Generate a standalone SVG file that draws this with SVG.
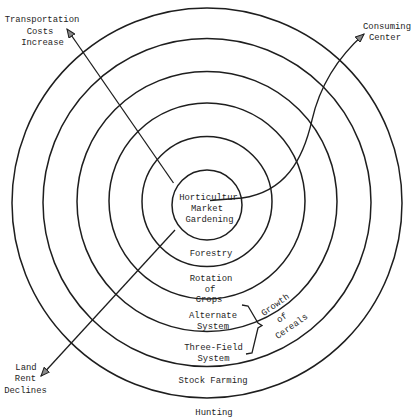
<svg xmlns="http://www.w3.org/2000/svg" width="413" height="417" viewBox="0 0 413 417">
<style>
.ring{fill:none;stroke:#1e1e1e;stroke-width:1.5}
.con{fill:none;stroke:#1e1e1e;stroke-width:1.3}
text{font-family:"Liberation Mono","DejaVu Sans Mono",monospace;font-size:8.9px;fill:#1e1e1e;text-anchor:middle}
</style>
<defs>
<marker id="arr" markerUnits="userSpaceOnUse" markerWidth="10" markerHeight="8" refX="9" refY="4" orient="auto" viewBox="0 0 10 8">
<path d="M0.5,0.5 L9,4 L0.5,7.5 Z" fill="#8a8a8a" stroke="#1e1e1e" stroke-width="1"/>
</marker>
</defs>
<rect width="413" height="417" fill="#ffffff"/>
<g id="rings">
<g id="hunting"><circle class="ring" cx="207" cy="203" r="195"/><text x="214" y="415">Hunting</text></g>
<g id="stock-farming"><circle class="ring" cx="207" cy="202.5" r="164"/><text x="213" y="383">Stock Farming</text></g>
<g id="three-field"><circle class="ring" cx="207" cy="201.5" r="130"/><text x="213.5" y="350">Three-Field</text><text x="213.5" y="360.5">System</text></g>
<g id="alternate"><circle class="ring" cx="207" cy="201" r="98"/><text x="213" y="318">Alternate</text><text x="213" y="329">System</text></g>
<g id="rotation"><circle class="ring" cx="207" cy="201.5" r="65"/><text x="211" y="281">Rotation</text><text x="210" y="292">of</text><text x="209" y="302">Crops</text></g>
<g id="forestry"><text x="211" y="256">Forestry</text></g>
<g id="horticulture"><circle class="ring" cx="207" cy="205" r="35"/><text x="208.5" y="200">Horticultur</text><text x="207" y="211">Market</text><text x="209.5" y="222">Gardening</text></g>
</g>
<g id="cereals">
<path class="con" d="M242,305 L248,306 L258,323 L262,325.5 L258,328 L252,353 L246,354"/>
<g transform="translate(275,304.5) rotate(-35)">
<text x="0" y="3">Growth</text><text x="-2" y="17.5">of</text><text x="1" y="30">Cereals</text>
</g>
</g>
<g id="connectors">
<line class="con" x1="173.5" y1="183" x2="67" y2="29" marker-end="url(#arr)"/>
<line class="con" x1="175" y1="230" x2="41" y2="376" marker-end="url(#arr)"/>
<path class="con" d="M210,200.5 L242,198 C285,192 303,160 312,120 C320,85 337,58 364,34" marker-end="url(#arr)"/>
</g>
<g id="labels">
<g id="transport"><text x="42" y="22">Transportation</text><text x="40" y="34">Costs</text><text x="42.5" y="45">Increase</text></g>
<g id="consuming"><text x="387" y="29">Consuming</text><text x="385" y="40">Center</text></g>
<g id="landrent"><text x="26" y="370">Land</text><text x="25.5" y="381">Rent</text><text x="25.5" y="393">Declines</text></g>
</g>
</svg>
